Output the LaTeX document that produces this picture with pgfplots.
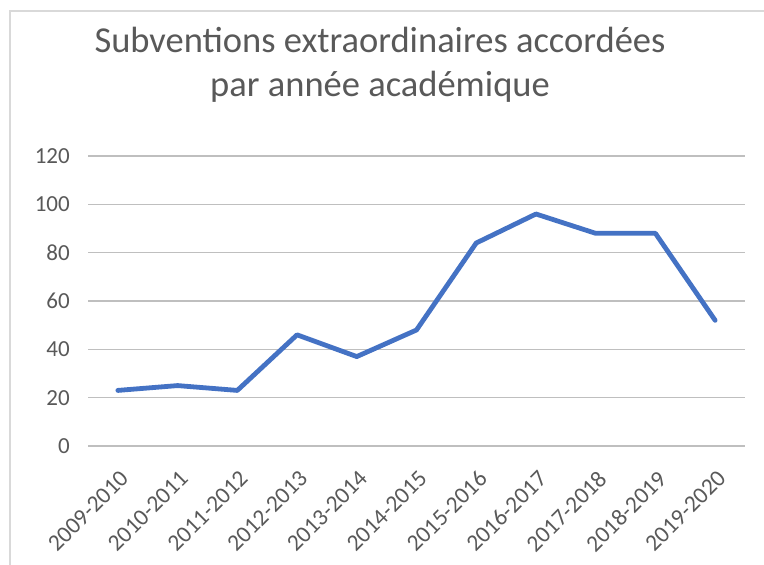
\documentclass[border=0pt]{standalone}
\usepackage{pgfplots}
\pgfplotsset{compat=1.18}
\usepackage{fontspec}
\setmainfont{Carlito}
\definecolor{txt}{HTML}{595959}
\definecolor{grid}{HTML}{D9D9D9}
\definecolor{line}{HTML}{4472C4}
\begin{document}
\begin{tikzpicture}[x=1pt,y=1pt]
\useasboundingbox (0,0) rectangle (764,565);
\draw[grid, line width=1.5pt] (10,-5) -- (10,554) -- (770,554);
\node[txt, align=center, font=\fontsize{36.5}{44}\selectfont, anchor=north] at (380,541) {Subventions extraordinaires accordées\\par année académique};
\begin{axis}[
  at={(88pt,119pt)}, anchor=south west,
  scale only axis, width=657pt, height=290pt,
  xmin=-0.5, xmax=10.5, ymin=0, ymax=120,
  ytick={0,20,...,120},
  xtick={0,...,10},
  xticklabels={2009-2010,2010-2011,2011-2012,2012-2013,2013-2014,2014-2015,2015-2016,2016-2017,2017-2018,2018-2019,2019-2020},
  x tick label style={xshift=1pt, yshift=-23pt, rotate=45, anchor=north east, inner sep=0pt, font=\fontsize{23.5}{26}\selectfont},
  y tick label style={font=\fontsize{23}{26}\selectfont},
  tick label style={text=txt},
  /pgf/number format/assume math mode=true,
  xmajorgrids=false, ymajorgrids=true,
  major grid style={grid, line width=1.5pt},
  axis line style={draw=none},
  major tick length=0pt,
  yticklabel style={xshift=-18pt, anchor=east, inner sep=0pt},
  clip=false,
]
\addplot[line, line width=4.8pt, line cap=round, line join=round] coordinates {
(0,23) (1,25) (2,23) (3,46) (4,37) (5,48) (6,84) (7,96) (8,88) (9,88) (10,52)
};
\end{axis}
\end{tikzpicture}
\end{document}
